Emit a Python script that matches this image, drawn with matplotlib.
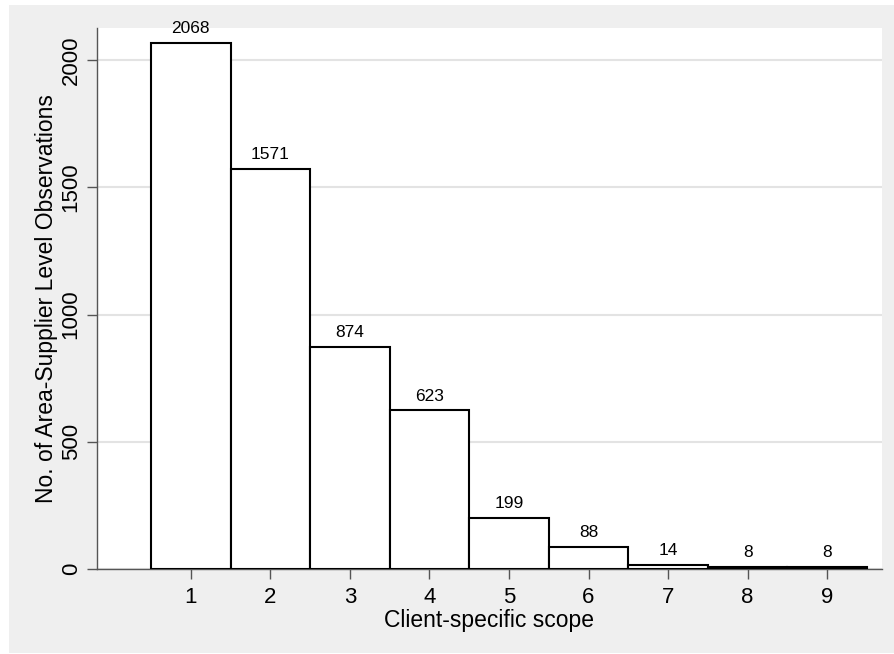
import matplotlib
matplotlib.use("Agg")
import matplotlib.pyplot as plt
import matplotlib.patches as mpatches

plt.rcParams["font.family"] = ["Liberation Sans", "DejaVu Sans"]

# data
scope = [1, 2, 3, 4, 5, 6, 7, 8, 9]
counts = [2068, 1571, 874, 623, 199, 88, 14, 8, 8]
y_ticks = [0, 500, 1000, 1500, 2000]

BG = "#efefef"
AXIS = "#555555"

fig = plt.figure(figsize=(8.95, 6.54), dpi=100)
fig.patch.set_facecolor("white")
# gray graph region (Stata style)
fig.patches.append(mpatches.Rectangle((9 / 895, 1 / 654), 1 - 9 / 895, 648 / 654,
                                      transform=fig.transFigure, facecolor=BG,
                                      edgecolor="none", zorder=-10))

ax = fig.add_axes([97 / 895, 85 / 654, 785 / 895, 541 / 654])
ax.set_zorder(5)
ax.set_facecolor("white")

bars = ax.bar(scope, counts, width=1.0, facecolor="white", edgecolor="black",
              linewidth=1.5, zorder=3)
for b, v in zip(bars, counts):
    ax.annotate(str(v), (b.get_x() + b.get_width() / 2, v),
                xytext=(0, 5), textcoords="offset points",
                ha="center", va="bottom", fontsize=12.5, zorder=4)

ax.set_xlim(-0.18, 9.69)
ax.set_ylim(0, 2126)
ax.set_xticks(scope)
ax.set_yticks(y_ticks)
ax.set_yticklabels([str(t) for t in y_ticks], rotation=90, va="center")
ax.grid(axis="y", color="#e3e3e3", linewidth=1.5, zorder=0)
ax.set_axisbelow(True)

for s in ("top", "right"):
    ax.spines[s].set_visible(False)
for s in ("left", "bottom"):
    ax.spines[s].set_color(AXIS)
    ax.spines[s].set_linewidth(1.0)

ax.tick_params(axis="both", length=7, width=1.0, color=AXIS, labelsize=16)
ax.tick_params(axis="x", pad=6)
ax.tick_params(axis="y", pad=4)

ax.set_xlabel("Client-specific scope", fontsize=16.5, labelpad=1)
ax.set_ylabel("No. of Area-Supplier Level Observations", fontsize=16.5, labelpad=2)

plt.savefig("out.png", dpi=100, facecolor=fig.get_facecolor())
